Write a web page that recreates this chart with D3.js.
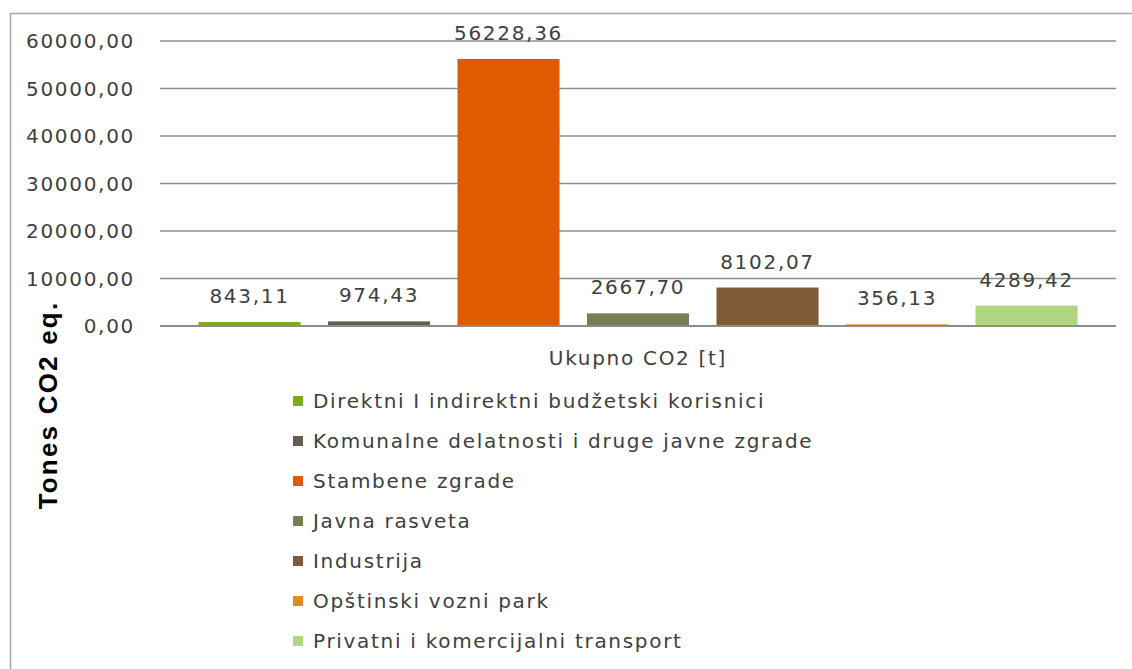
<!DOCTYPE html>
<html>
<head>
<meta charset="utf-8">
<script src="https://cdn.jsdelivr.net/npm/d3@7"></script>
<style>
  body { margin: 0; background: #fff; }
  svg { display: block; }
</style>
</head>
<body>
<div class="chart"></div>
<script>
const categories = [
  "Direktni I indirektni budžetski korisnici",
  "Komunalne delatnosti i druge javne zgrade",
  "Stambene zgrade",
  "Javna rasveta",
  "Industrija",
  "Opštinski vozni park",
  "Privatni i komercijalni transport"
];
const values = [843.11, 974.43, 56228.36, 2667.70, 8102.07, 356.13, 4289.42];
const colors = ["#7fab17", "#675e52", "#e05a00", "#7b7d56", "#7f5b38", "#e28b1f", "#b2d581"];
const yTicks = [0, 10000, 20000, 30000, 40000, 50000, 60000];
const groupLabel = "Ukupno CO2 [t]";
const yTitle = "Tones CO2 eq.";

const W = 1132, H = 669;
const font = "'DejaVu Sans', sans-serif";
const fmt = v => d3.format(".2f")(v).replace(".", ",");

const svg = d3.select(".chart").append("svg")
  .attr("width", W).attr("height", H);

// chart frame (runs off the right/bottom of the picture)
svg.append("rect")
  .attr("x", 10.5).attr("y", 13.5)
  .attr("width", W + 20).attr("height", H + 20)
  .attr("fill", "#fff").attr("stroke", "#a6a6a6").attr("stroke-width", 1.5);

const plot = { left: 160, right: 1116, top: 41, bottom: 326 };

const y = d3.scaleLinear().domain([0, 60000]).range([plot.bottom, plot.top]);
const x = d3.scaleBand().domain(categories)
  .range([plot.left, plot.right]).paddingInner(0.212).paddingOuter(0.297);

function styleText(sel) {
  return sel.attr("font-family", font).attr("font-size", "20px")
    .attr("letter-spacing", "1.7px").attr("fill", "#404040");
}

// gridlines
svg.append("g").selectAll("line").data(yTicks.filter(d => d > 0)).join("line")
  .attr("x1", plot.left).attr("x2", plot.right)
  .attr("y1", d => y(d)).attr("y2", d => y(d))
  .attr("stroke", "#8c8c8c").attr("stroke-width", 1.5);

// tick labels
svg.append("g").selectAll("text").data(yTicks).join("text")
  .attr("x", 135).attr("y", d => y(d) + 7)
  .attr("text-anchor", "end")
  .call(styleText)
  .text(d => fmt(d));

// bars
svg.append("g").selectAll("rect").data(values).join("rect")
  .attr("x", (d, i) => x(categories[i]))
  .attr("width", x.bandwidth())
  .attr("y", d => y(d))
  .attr("height", d => plot.bottom - y(d))
  .attr("fill", (d, i) => colors[i]);

// baseline drawn over the bars
svg.append("line")
  .attr("x1", plot.left).attr("x2", plot.right)
  .attr("y1", y(0)).attr("y2", y(0))
  .attr("stroke", "#8c8c8c").attr("stroke-width", 2);

// data labels
svg.append("g").selectAll("text").data(values).join("text")
  .attr("x", (d, i) => x(categories[i]) + x.bandwidth() / 2)
  .attr("y", d => y(d) - 19)
  .attr("text-anchor", "middle")
  .call(styleText)
  .text(d => fmt(d));

// category axis label
svg.append("text")
  .attr("x", (plot.left + plot.right) / 2).attr("y", 365)
  .attr("text-anchor", "middle")
  .call(styleText)
  .text(groupLabel);

// y title
svg.append("text")
  .attr("transform", "translate(57,405) rotate(-90)")
  .attr("text-anchor", "middle")
  .attr("font-family", "'Liberation Sans', Arial, sans-serif")
  .attr("font-size", "26px").attr("font-weight", "bold")
  .attr("letter-spacing", "2.2px")
  .attr("fill", "#000")
  .text(yTitle);

// legend
const legend = svg.append("g").selectAll("g").data(categories).join("g")
  .attr("transform", (d, i) => `translate(293,${401 + i * 40})`);
legend.append("rect")
  .attr("x", 0).attr("y", -5).attr("width", 10).attr("height", 10)
  .attr("fill", (d, i) => colors[i]);
legend.append("text")
  .attr("x", 20).attr("y", 7)
  .call(styleText)
  .text(d => d);
</script>
</body>
</html>
